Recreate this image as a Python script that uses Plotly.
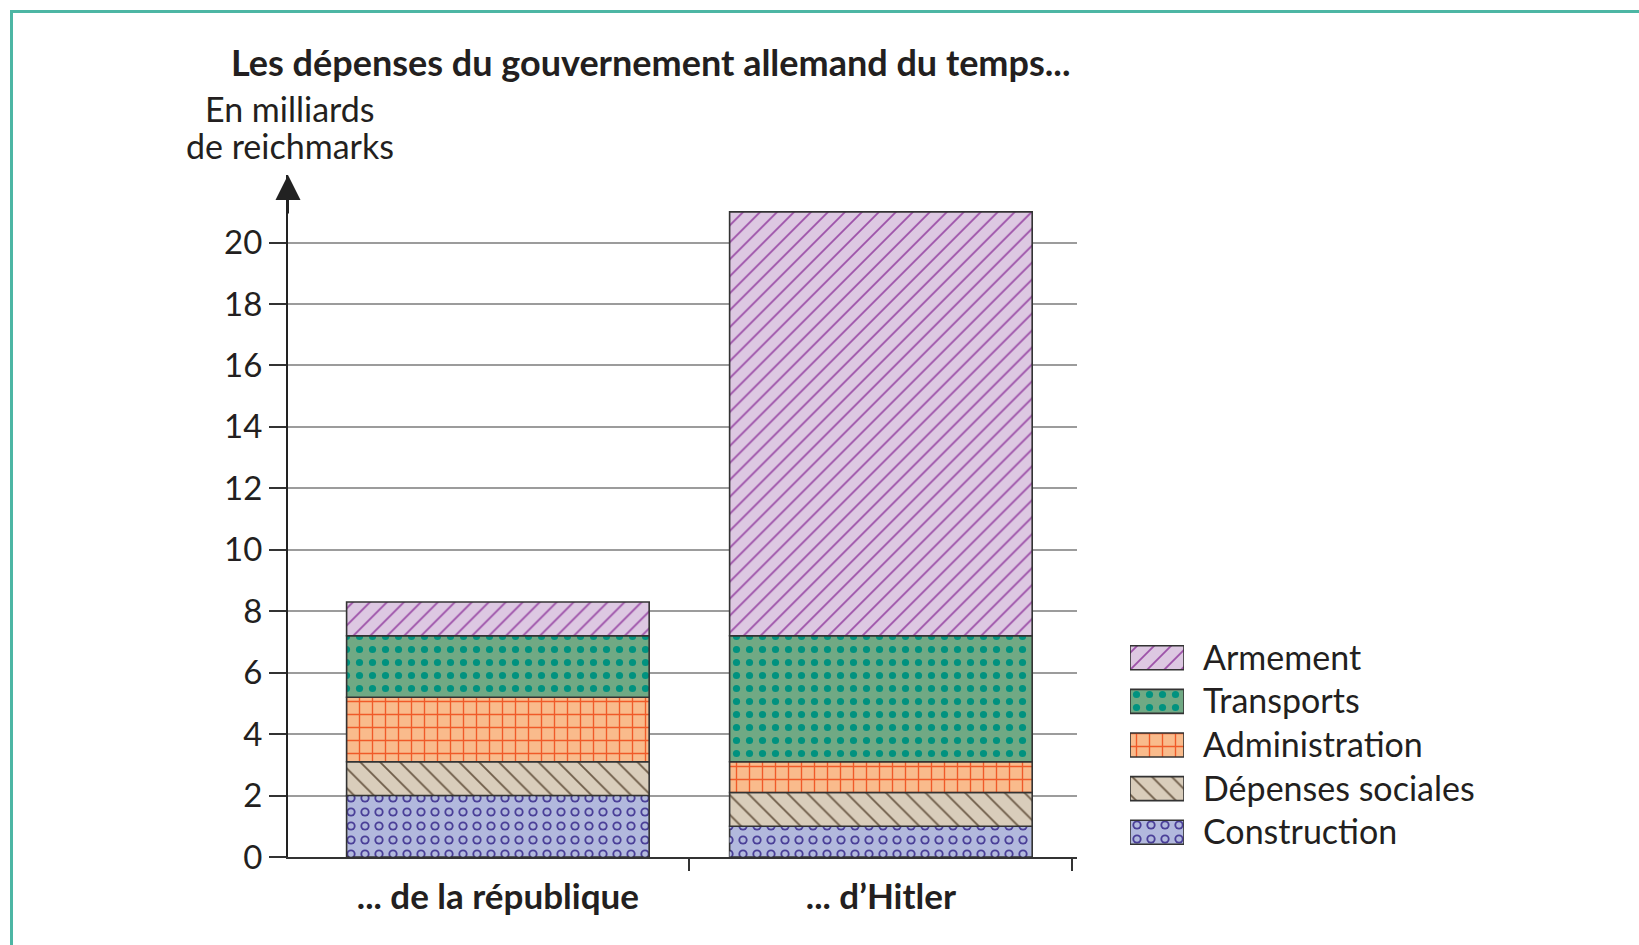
import numpy as np
import plotly.graph_objects as go

# ---- data ----
periods = ["... de la république", "... d’Hitler"]
series = ["Construction", "Dépenses sociales", "Administration", "Transports", "Armement"]
construction = [2.0, 1.0]
depenses_sociales = [1.1, 1.1]
administration = [2.1, 1.0]
transports = [2.0, 4.1]
armement = [1.1, 13.8]
y_ticks = [0, 2, 4, 6, 8, 10, 12, 14, 16, 18, 20]
title_text = "Les dépenses du gouvernement allemand du temps..."
y_title_lines = ["En milliards", "de reichmarks"]

values = {
    "Construction": construction,
    "Dépenses sociales": depenses_sociales,
    "Administration": administration,
    "Transports": transports,
    "Armement": armement,
}

W, H = 1639, 945
def fx(p):
    return p / W
def fy(p):
    return 1 - p / H

FONT = "Lato, 'Open Sans', sans-serif"
TXT = "#231f20"
OUTLINE = "#333333"

styles = {
    "Construction": dict(bg="#b2b9dd", fg="#4a3f98", shape=".", size=14, solidity=0.34),
    "Dépenses sociales": dict(bg="#d9cdbb", fg="#6e5c48", shape="\\", size=14, solidity=0.13),
    "Administration": dict(bg="#f9bb8c", fg="#f05a28", shape="+", size=13, solidity=0.2),
    "Transports": dict(bg="#70a984", fg="#00927f", shape=".", size=13, solidity=0.24),
    "Armement": dict(bg="#ddc8e2", fg="#9c50a8", shape="/", size=12, solidity=0.15),
}
RING_HOLE = 0.12

stack = np.array([values[s] for s in series])
bases = np.cumsum(stack, axis=0) - stack
xpos = list(range(len(periods)))
BAR_W = 0.79

fig = go.Figure()

def pattern(st):
    return dict(shape=st["shape"], fgcolor=st["fg"], bgcolor=st["bg"],
                size=st["size"], solidity=st["solidity"], fillmode="replace")

def ring_pattern(st):
    return dict(shape=".", fgcolor=st["bg"], bgcolor="rgba(0,0,0,0)",
                size=st["size"], solidity=RING_HOLE, fillmode="replace")

for i, name in enumerate(series):
    st = styles[name]
    fig.add_trace(go.Bar(
        x=xpos, y=values[name], base=bases[i], width=BAR_W, name=name,
        marker=dict(color=st["bg"], line=dict(color=OUTLINE, width=1.6), pattern=pattern(st)),
        showlegend=False, hoverinfo="skip",
    ))
    if name == "Construction":
        fig.add_trace(go.Bar(
            x=xpos, y=values[name], base=bases[i], width=BAR_W, name=name,
            marker=dict(color="rgba(0,0,0,0)", line=dict(width=0), pattern=ring_pattern(st)),
            showlegend=False, hoverinfo="skip",
        ))

# legend drawn as a small bar subplot
for name in series:
    st = styles[name]
    fig.add_trace(go.Bar(
        x=[1], y=[name], orientation="h", width=0.55, xaxis="x2", yaxis="y2",
        marker=dict(color=st["bg"], line=dict(color=OUTLINE, width=1.6), pattern=pattern(st)),
        showlegend=False, hoverinfo="skip",
    ))
    if name == "Construction":
        fig.add_trace(go.Bar(
            x=[1], y=[name], orientation="h", width=0.55, xaxis="x2", yaxis="y2",
            marker=dict(color="rgba(0,0,0,0)", line=dict(width=0), pattern=ring_pattern(st)),
            showlegend=False, hoverinfo="skip",
        ))

fig.update_layout(
    width=W, height=H,
    margin=dict(l=0, r=0, t=0, b=0, pad=0),
    paper_bgcolor="white", plot_bgcolor="white",
    barmode="overlay",
    font=dict(family=FONT, color=TXT),
    xaxis=dict(
        domain=[fx(288), fx(1077)], range=[-0.548, 1.512], automargin=False,
        tickvals=xpos, ticktext=periods, ticks="",
        tickfont=dict(family=FONT, size=35, color=TXT, weight="bold"),
        ticklabelstandoff=8,
        showline=True, linecolor=OUTLINE, linewidth=2, showgrid=False, zeroline=False,
        minor=dict(tickvals=[0.5, 1.5], ticks="outside", ticklen=12, tickwidth=2, tickcolor=OUTLINE),
        fixedrange=True,
    ),
    yaxis=dict(
        domain=[fy(857), fy(175)], range=[0, 22.2], automargin=False,
        tickvals=y_ticks, ticks="outside", ticklen=17, tickwidth=1.5, tickcolor=OUTLINE,
        tickfont=dict(family=FONT, size=33, color=TXT), ticklabelstandoff=0,
        showgrid=True, gridcolor="#9c9c9c", gridwidth=1.5,
        showline=True, linecolor="#222222", linewidth=2, zeroline=False,
        fixedrange=True,
    ),
    xaxis2=dict(domain=[fx(1130), fx(1184)], range=[0, 1], visible=False, anchor="y2",
                automargin=False, fixedrange=True),
    yaxis2=dict(
        domain=[fy(854), fy(636)], type="category", categoryorder="array", categoryarray=series,
        range=[-0.5, len(series) - 0.5], anchor="x2", side="right", automargin=False,
        ticks="", showgrid=False, showline=False, zeroline=False,
        tickfont=dict(family=FONT, size=34, color=TXT), ticklabelstandoff=18,
        fixedrange=True,
    ),
    shapes=[
        dict(type="line", xref="paper", yref="paper", x0=fx(11), x1=1.0, y0=fy(11.5), y1=fy(11.5),
             line=dict(color="#4db6a4", width=3), layer="below"),
        dict(type="line", xref="paper", yref="paper", x0=fx(11.5), x1=fx(11.5), y0=0.0, y1=fy(10),
             line=dict(color="#4db6a4", width=3), layer="below"),
    ],
    annotations=[
        dict(text="<b>" + title_text + "</b>", xref="paper", yref="paper", x=fx(650), y=fy(62),
             xanchor="center", yanchor="middle", showarrow=False,
             font=dict(family=FONT, size=36, color=TXT)),
        dict(text=y_title_lines[0], xref="paper", yref="paper", x=fx(290), y=fy(109),
             xanchor="center", yanchor="middle", showarrow=False,
             font=dict(family=FONT, size=34, color=TXT)),
        dict(text=y_title_lines[1], xref="paper", yref="paper", x=fx(290), y=fy(146),
             xanchor="center", yanchor="middle", showarrow=False,
             font=dict(family=FONT, size=34, color=TXT)),
        dict(text="", xref="paper", yref="paper", x=fx(288), y=fy(175), ax=0, ay=40,
             showarrow=True, arrowhead=2, arrowsize=2.5, arrowwidth=2, arrowcolor="#222222"),
    ],
)

fig.write_html("out.html", config={"displayModeBar": False},
               post_script="document.body.style.margin='0px';document.body.style.overflow='hidden';")
